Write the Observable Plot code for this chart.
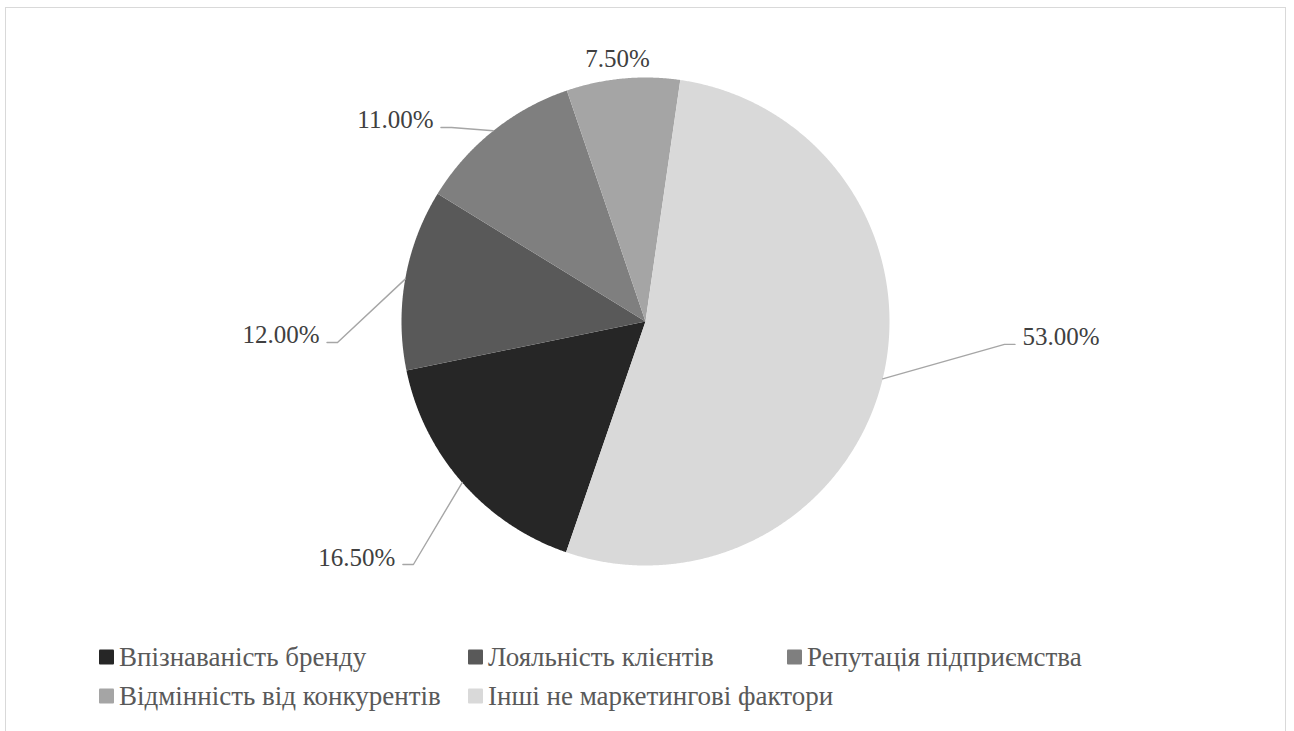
<!DOCTYPE html>
<html>
<head>
<meta charset="utf-8">
<script src="https://cdn.jsdelivr.net/npm/d3@7"></script>
<script src="https://cdn.jsdelivr.net/npm/@observablehq/plot@0.6"></script>
<style>
  html, body { margin: 0; padding: 0; background: #fff; overflow: hidden; }
  #frame {
    position: absolute; left: 5px; top: 7px; width: 1281px; height: 800px;
    border: 1.5px solid #d9d9d9; box-sizing: border-box; pointer-events: none;
  }
  #chart { position: absolute; left: 0; top: 0; width: 1294px; }
  #legend { position: relative; height: 100px; font-family: "Liberation Serif", "Times New Roman", serif; font-size: 27px; color: #595959; }
  .item { position: absolute; display: flex; align-items: center; white-space: nowrap; transform: translateY(-50%); }
  .swatch { width: 15px; height: 15px; margin-right: 5px; border-radius: 1px; }
  #chart svg text { font-family: "Liberation Serif", "Times New Roman", serif; }
</style>
</head>
<body>
<div id="frame"></div>
<div id="chart"></div>
<script>
// Factors of customer choice, share of total (%)
const categories = [
  "Впізнаваність бренду",
  "Лояльність клієнтів",
  "Репутація підприємства",
  "Відмінність від конкурентів",
  "Інші не маркетингові фактори"
];
const shares = [16.5, 12.0, 11.0, 7.5, 53.0];
const valueLabels = ["16.50%", "12.00%", "11.00%", "7.50%", "53.00%"];
const colors = ["#262626", "#595959", "#7f7f7f", "#a5a5a5", "#d9d9d9"];

// Layout: SVG size, pie centre/radius in pixels, first-slice angle
const W = 1294, H = 630, CX = 645, CY = 321, R = 244, FIRST_ANGLE = 199;

// Data-label placement relative to the pie centre, in pie radii (text baseline)
const labelPlacement = [
  { dx: -1.025, dy: 1.000, anchor: "end", leader: true },
  { dx: -1.336, dy: 0.090, anchor: "end", leader: true },
  { dx: -0.869, dy: -0.791, anchor: "end", leader: true },
  { dx: -0.115, dy: -1.045, anchor: "middle", leader: false },
  { dx: 1.545, dy: 0.098, anchor: "start", leader: true }
];

const rows = categories.map((c, i) => ({ category: c, share: shares[i], label: valueLabels[i], ...labelPlacement[i] }));

const a0 = FIRST_ANGLE * Math.PI / 180;
const arcs = d3.pie().sort(null).value(d => d.share).startAngle(a0).endAngle(a0 + 2 * Math.PI)(rows);

// Slice outlines as closed polygons (unit radius, y pointing down)
const slicePoints = arcs.flatMap(a => {
  const n = Math.max(2, Math.ceil((a.endAngle - a.startAngle) / 0.005));
  const pts = [{ category: a.data.category, x: 0, y: 0 }];
  for (let k = 0; k <= n; k++) {
    const t = a.startAngle + (a.endAngle - a.startAngle) * k / n;
    pts.push({ category: a.data.category, x: Math.sin(t), y: -Math.cos(t) });
  }
  pts.push({ category: a.data.category, x: 0, y: 0 });
  return pts;
});

// Leader lines: slice edge midpoint -> elbow -> next to the label
const px = 1 / R;
const leaderPoints = arcs.filter(a => a.data.leader).flatMap(a => {
  const m = (a.startAngle + a.endAngle) / 2;
  const d = a.data;
  const dir = d.anchor === "end" ? 1 : -1;
  const y = d.dy - 1 * px;
  return [
    { category: d.category, x: Math.sin(m), y: -Math.cos(m) },
    { category: d.category, x: d.dx + dir * 18 * px, y },
    { category: d.category, x: d.dx + dir * 7.5 * px, y }
  ];
});

const textStyle = { fontFamily: "Liberation Serif, Times New Roman, serif", fontSize: 25, fill: "#404040", lineAnchor: "bottom" };
const labelMark = anchor => Plot.text(rows.filter(d => d.anchor === anchor), {
  x: "dx", y: "dy", text: "label", textAnchor: anchor, ...textStyle
});

const chart = Plot.plot({
  width: W,
  height: H,
  margin: 0,
  style: { background: "transparent", overflow: "visible" },
  x: { domain: [-CX / R, (W - CX) / R], range: [0, W], axis: null },
  y: { domain: [-CY / R, (H - CY) / R], range: [0, H], axis: null },
  color: { domain: categories, range: colors },
  marks: [
    Plot.line(slicePoints, { x: "x", y: "y", z: "category", fill: "category", stroke: null, curve: "linear" }),
    Plot.line(leaderPoints, { x: "x", y: "y", z: "category", stroke: "#a6a6a6", strokeWidth: 1.4 }),
    labelMark("end"),
    labelMark("middle"),
    labelMark("start")
  ]
});
document.getElementById("chart").append(chart);

// Legend below the plot
const legend = document.createElement("div");
legend.id = "legend";
const legendSlots = [
  { left: 99, top: 27 }, { left: 468, top: 27 }, { left: 787, top: 27 },
  { left: 99, top: 66 }, { left: 468, top: 66 }
];
categories.forEach((c, i) => {
  const item = document.createElement("div");
  item.className = "item";
  item.style.left = legendSlots[i].left + "px";
  item.style.top = legendSlots[i].top + "px";
  const sw = document.createElement("span");
  sw.className = "swatch";
  sw.style.background = colors[i];
  const tx = document.createElement("span");
  tx.textContent = c;
  item.append(sw, tx);
  legend.append(item);
});
document.getElementById("chart").append(legend);
</script>
</body>
</html>
